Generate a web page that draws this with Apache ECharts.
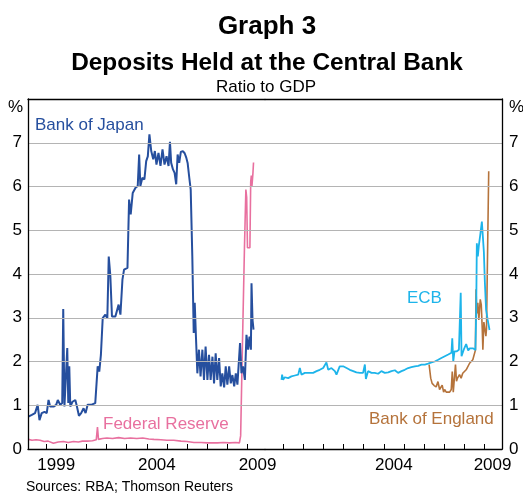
<!DOCTYPE html>
<html><head><meta charset="utf-8">
<script src="https://cdn.jsdelivr.net/npm/echarts@6/dist/echarts.min.js"></script>
<style>html,body{margin:0;padding:0;background:#fff}#c{width:523px;height:493px}</style>
</head><body><div id="c"></div>
<script>
// [decimal year, % of GDP]
const bankOfJapan = [
[1998.12,0.74],[1998.29,0.78],[1998.45,0.82],[1998.58,1.01],[1998.67,0.66],[1998.78,0.82],[1998.92,0.85],[1999.03,0.82],
[1999.12,1.12],[1999.20,0.97],[1999.37,0.97],[1999.50,1.01],[1999.58,1.12],[1999.70,1.01],[1999.80,1.05],[1999.85,3.20],
[1999.91,0.97],[2000.00,0.97],[2000.05,2.31],[2000.10,1.05],[2000.15,1.89],[2000.20,0.97],[2000.31,1.08],[2000.45,1.12],
[2000.53,0.97],[2000.63,0.76],[2000.74,0.82],[2000.86,0.93],[2000.96,0.82],[2001.06,1.01],[2001.23,1.01],[2001.44,1.05],
[2001.56,1.89],[2001.64,1.77],[2001.72,2.15],[2001.81,2.99],[2001.94,3.07],[2002.04,2.99],[2002.11,4.40],[2002.19,3.95],
[2002.27,3.03],[2002.44,3.03],[2002.60,3.30],[2002.69,3.07],[2002.79,3.87],[2002.87,4.10],[2003.04,4.14],[2003.12,5.70],
[2003.20,5.36],[2003.30,5.85],[2003.44,5.97],[2003.55,6.01],[2003.62,6.73],[2003.68,6.01],[2003.78,6.20],[2003.88,6.16],
[2003.97,6.58],[2004.05,6.69],[2004.13,7.19],[2004.22,6.81],[2004.32,6.62],[2004.40,6.81],[2004.48,6.50],[2004.58,6.77],
[2004.68,6.47],[2004.78,6.85],[2004.88,6.50],[2004.98,6.69],[2005.08,6.47],[2005.15,7.02],[2005.21,6.54],[2005.30,6.39],
[2005.38,6.31],[2005.46,6.05],[2005.53,6.73],[2005.61,6.54],[2005.69,6.79],[2005.79,6.81],[2005.88,6.76],[2005.96,6.66],
[2006.03,6.53],[2006.11,6.20],[2006.18,5.93],[2006.26,4.40],[2006.33,2.65],[2006.38,3.34],[2006.44,2.57],[2006.51,1.73],
[2006.59,2.27],[2006.67,1.66],[2006.76,2.27],[2006.84,1.58],[2006.92,2.34],[2007.01,1.58],[2007.09,2.15],[2007.17,1.58],
[2007.26,2.11],[2007.34,1.50],[2007.42,2.19],[2007.50,1.58],[2007.59,2.08],[2007.67,1.43],[2007.75,1.73],[2007.84,1.41],
[2007.92,1.89],[2008.00,1.47],[2008.09,1.89],[2008.17,1.50],[2008.25,1.69],[2008.34,1.43],[2008.42,1.73],[2008.50,1.47],
[2008.58,1.50],[2008.63,2.42],[2008.70,1.73],[2008.78,1.89],[2008.87,1.58],[2008.95,2.61],[2009.03,2.27],[2009.10,2.57],
[2009.17,2.27],[2009.20,3.79],[2009.25,2.95],[2009.30,2.73]
];
const federalReserve = [
[1998.12,0.22],[1998.30,0.20],[1998.50,0.21],[1998.70,0.20],[1998.90,0.17],[1999.10,0.18],[1999.36,0.13],[1999.60,0.16],
[1999.86,0.17],[2000.10,0.15],[2000.36,0.17],[2000.60,0.16],[2000.80,0.18],[2001.03,0.18],[2001.30,0.19],[2001.49,0.21],
[2001.55,0.50],[2001.60,0.22],[2001.80,0.24],[2002.02,0.25],[2002.30,0.24],[2002.60,0.26],[2002.90,0.24],[2003.19,0.25],
[2003.50,0.24],[2003.80,0.25],[2004.10,0.23],[2004.35,0.22],[2004.70,0.21],[2005.00,0.20],[2005.34,0.20],[2005.70,0.18],
[2006.00,0.17],[2006.34,0.15],[2006.70,0.15],[2007.00,0.14],[2007.51,0.14],[2007.80,0.15],[2008.10,0.14],[2008.40,0.15],
[2008.60,0.14],[2008.66,0.30],[2008.75,2.40],[2008.85,4.60],[2008.92,5.93],[2008.96,5.75],[2009.00,4.60],[2009.12,4.60],
[2009.16,6.10],[2009.19,6.25],[2009.22,6.00],[2009.27,6.30],[2009.30,6.55]
];
const ecb = [
[1998.92,1.58],[1998.95,1.70],[1999.00,1.58],[1999.08,1.64],[1999.25,1.62],[1999.41,1.66],[1999.58,1.68],[1999.75,1.70],
[1999.83,1.85],[1999.91,1.70],[2000.08,1.74],[2000.32,1.74],[2000.49,1.74],[2000.66,1.78],[2000.82,1.81],[2000.99,1.85],
[2001.15,1.98],[2001.24,1.81],[2001.40,1.85],[2001.57,1.78],[2001.65,1.70],[2001.81,1.89],[2001.98,1.89],[2002.15,1.85],
[2002.31,1.81],[2002.48,1.78],[2002.64,1.75],[2002.81,1.74],[2002.97,1.74],[2003.06,1.93],[2003.11,1.60],[2003.22,1.78],
[2003.39,1.74],[2003.55,1.74],[2003.72,1.72],[2003.88,1.78],[2004.05,1.74],[2004.22,1.75],[2004.38,1.78],[2004.55,1.80],
[2004.71,1.74],[2004.88,1.78],[2005.04,1.81],[2005.21,1.85],[2005.37,1.87],[2005.54,1.89],[2005.71,1.90],[2005.87,1.93],
[2006.04,1.93],[2006.20,1.95],[2006.37,1.98],[2006.53,2.00],[2006.70,2.04],[2006.86,2.08],[2007.03,2.12],[2007.20,2.16],
[2007.36,2.20],[2007.40,2.53],[2007.45,2.00],[2007.51,2.23],[2007.61,2.23],[2007.73,2.27],[2007.82,3.57],[2007.86,2.12],
[2007.97,2.27],[2008.09,2.40],[2008.19,2.25],[2008.27,2.30],[2008.35,2.26],[2008.44,2.30],[2008.55,2.26],[2008.59,3.18],
[2008.62,4.70],[2008.67,4.40],[2008.72,4.65],[2008.80,4.93],[2008.87,5.20],[2008.92,4.85],[2008.97,4.50],[2009.02,3.80],
[2009.08,3.18],[2009.16,2.95],[2009.25,2.72]
];
const bankOfEngland = [
[2006.25,1.93],[2006.33,1.62],[2006.40,1.50],[2006.50,1.45],[2006.60,1.42],[2006.69,1.54],[2006.77,1.36],[2006.85,1.33],
[2006.90,1.46],[2006.97,1.30],[2007.02,1.36],[2007.10,1.30],[2007.18,1.33],[2007.27,1.30],[2007.35,1.36],[2007.40,1.77],
[2007.45,1.30],[2007.51,1.33],[2007.56,1.93],[2007.61,1.55],[2007.66,1.62],[2007.73,1.58],[2007.76,1.70],[2007.84,1.62],
[2007.92,1.73],[2008.01,1.70],[2008.09,1.81],[2008.17,1.85],[2008.26,1.96],[2008.34,2.00],[2008.42,2.04],[2008.50,2.07],
[2008.55,2.26],[2008.58,3.65],[2008.62,3.10],[2008.67,3.34],[2008.72,2.95],[2008.79,3.42],[2008.84,3.30],[2008.89,2.74],
[2008.92,2.27],[2008.97,2.90],[2009.02,2.88],[2009.07,2.58],[2009.10,2.75],[2009.21,6.35]
];
const yearTicks = [1999,2000,2001,2002,2003,2004,2005,2006,2007,2008,2009];
const leftYearLabels = [1999.5, 2004.5, 2009.5];
const rightYearLabels = [2004.5, 2009.4];
const yTicks = [0,1,2,3,4,5,6,7];

const FONT = '"Liberation Sans", Arial, Helvetica, sans-serif';
const C = {boj:'#264f9e', fed:'#e8709f', ecb:'#1db4ea', boe:'#b5733b'};

function xAxis(gi, labels){
  return {
    type:'value', gridIndex:gi, min:1998.1, max:2009.87, z:5,
    axisLine:{show:true, onZero:false, lineStyle:{color:'#000', width:1.3}},
    axisTick:{show:true, inside:true, length:5, customValues:yearTicks, lineStyle:{color:'#000', width:1}},
    axisLabel:{show:true, customValues:labels, formatter:v=>String(Math.floor(v)), margin:8,
      fontSize:17, color:'#000', fontFamily:FONT, showMinLabel:true, showMaxLabel:true, hideOverlap:false},
    splitLine:{show:false}
  };
}
function topAxis(gi){
  return {type:'value', gridIndex:gi, position:'top', min:1998.1, max:2009.87, z:5,
    axisLine:{show:true, onZero:false, lineStyle:{color:'#000', width:1.3}},
    axisTick:{show:false}, axisLabel:{show:false}, splitLine:{show:false}};
}
function yAxis(gi, pos){
  return {
    type:'value', gridIndex:gi, position:pos, min:0, max:8, interval:1, z:4,
    axisLine:{show:true, lineStyle:{color:'#000', width:1.3}},
    axisTick:{show:false},
    axisLabel:{fontSize:17, color:'#000', fontFamily:FONT, margin:pos==='left'?6:7,
      formatter:v=>(yTicks.indexOf(v)>=0?String(v):'')},
    splitLine:{show:true, lineStyle:{color:'#b4b4b4', width:1.2}}
  };
}
function line(data, color, gi, w){
  return {type:'line', data:data, xAxisIndex:gi, yAxisIndex:gi, showSymbol:false, symbol:'none',
    lineStyle:{color:color, width:w}, itemStyle:{color:color}, animation:false, clip:true};
}
function txt(t, x, y, size, color, align, weight){
  return {type:'text', x:x, y:y, z:10, style:{text:t, fill:color,
    font:(weight||'normal')+' '+size+'px '+FONT,
    textAlign:align, align:align, textVerticalAlign:'middle', verticalAlign:'middle'}};
}

const chart = echarts.init(document.getElementById('c'));
chart.setOption({
  animation:false,
  backgroundColor:'#fff',
  grid:[
    {left:28, top:99, width:237, height:350, outerBoundsMode:'none', containLabel:false},
    {left:265, top:99, width:237, height:350, outerBoundsMode:'none', containLabel:false}
  ],
  xAxis:[xAxis(0, leftYearLabels), xAxis(1, rightYearLabels), topAxis(0), topAxis(1)],
  yAxis:[yAxis(0,'left'), yAxis(1,'right')],
  series:[
    line(federalReserve, C.fed, 0, 1.6),
    line(bankOfJapan, C.boj, 0, 2),
    line(bankOfEngland, C.boe, 1, 1.6),
    line(ecb, C.ecb, 1, 1.8)
  ],
  graphic:[
    txt('Graph 3', 267, 27, 26, '#000', 'center', 'bold'),
    txt('Deposits Held at the Central Bank', 267, 63, 24.4, '#000', 'center', 'bold'),
    txt('Ratio to GDP', 266, 87, 17, '#000', 'center'),
    txt('%', 23, 107, 17, '#000', 'right'),
    txt('%', 509, 107, 17, '#000', 'left'),
    txt('Bank of Japan', 35, 125, 17, C.boj, 'left'),
    txt('Federal Reserve', 103, 424, 17, C.fed, 'left'),
    txt('ECB', 407, 298, 17, C.ecb, 'left'),
    txt('Bank of England', 369, 419, 17, C.boe, 'left'),
    txt('Sources: RBA; Thomson Reuters', 26, 487, 14, '#000', 'left')
  ]
});
</script></body></html>
